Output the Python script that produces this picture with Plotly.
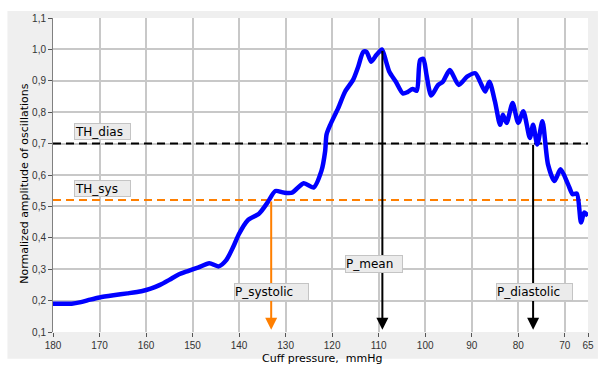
import plotly.graph_objects as go

# ---- data ----
pressure = [180, 178, 176, 174, 172, 170, 167, 164, 161, 159, 157, 155, 153, 151,
            148.7, 146.4, 144.4, 142.8, 141.3, 140, 138.2, 135.7, 133.9, 132.2, 130.4,
            128.6, 126.1, 124, 122.3, 121.5, 121.2, 120.4, 118.7, 117.2, 115.5, 114.4,
            113.3, 112.6, 111.6, 110.5, 109.3, 108.4, 107.7, 106.3, 104.8, 103.8, 102.7,
            101.8, 101.1, 100.4, 99.7, 98.7, 97.2, 96.2, 94.7, 92.8, 91, 89.2, 88.2,
            87.1, 86.2, 85, 83.9, 83.3, 82.5, 81.2, 80, 78.9, 77.5, 76.8, 75.9, 74.8,
            73.6, 72.2, 70.9, 69.3, 68.3, 67.4, 66.5, 65.8, 65]
amplitude = [0.19, 0.19, 0.19, 0.195, 0.203, 0.21, 0.217, 0.223, 0.23, 0.238, 0.25, 0.266,
             0.283, 0.294, 0.306, 0.319, 0.309, 0.328, 0.37, 0.413, 0.455, 0.477, 0.512,
             0.549, 0.544, 0.544, 0.574, 0.56, 0.613, 0.676, 0.729, 0.76, 0.813, 0.866,
             0.903, 0.945, 0.992, 0.992, 0.961, 0.982, 1.0, 0.961, 0.929, 0.897, 0.86,
             0.864, 0.874, 0.868, 0.966, 0.97, 0.918, 0.853, 0.887, 0.897, 0.934, 0.887,
             0.913, 0.924, 0.897, 0.866, 0.897, 0.834, 0.76, 0.792, 0.766, 0.829, 0.766,
             0.803, 0.718, 0.76, 0.697, 0.771, 0.634, 0.581, 0.618, 0.571, 0.539, 0.541,
             0.449, 0.481, 0.47]

th_dias = 0.70
th_sys = 0.52
p_systolic = 133.1
p_mean = 109.2
p_mean_amp = 1.0
p_diastolic = 76.8
arrow_bottom = 0.107

x_ticks = [180, 170, 160, 150, 140, 130, 120, 110, 100, 90, 80, 70, 65]
x_ticklabels = ["180", "170", "160", "150", "140", "130", "120", "110", "100", "90", "80", "70", "65"]
y_ticks = [0.1, 0.2, 0.3, 0.4, 0.5, 0.6, 0.7, 0.8, 0.9, 1.0, 1.1]
y_ticklabels = ["0,1", "0,2", "0,3", "0,4", "0,5", "0,6", "0,7", "0,8", "0,9", "1,0", "1,1"]

BLUE = "#0000ff"
ORANGE = "#ff7f00"
FONT = "DejaVu Sans"
TICKFONT = "Liberation Sans Narrow, Liberation Sans, Arial, sans-serif"

fig = go.Figure()

# threshold lines
fig.add_trace(go.Scatter(x=[180, 65], y=[th_dias, th_dias], mode="lines",
                         line=dict(color="black", width=2, dash="8px,5px"),
                         hoverinfo="skip", showlegend=False))
fig.add_trace(go.Scatter(x=[180, 65], y=[th_sys, th_sys], mode="lines",
                         line=dict(color=ORANGE, width=2, dash="8px,5px"),
                         hoverinfo="skip", showlegend=False))
# curve
fig.add_trace(go.Scatter(x=pressure, y=amplitude, mode="lines",
                         line=dict(color=BLUE, width=4.5, shape="spline", smoothing=0.7),
                         showlegend=False))

annotations = []
# arrows
for xv, ytop, col in [(p_systolic, th_sys, ORANGE), (p_mean, p_mean_amp, "black"),
                      (p_diastolic, th_dias, "black")]:
    annotations.append(dict(x=xv, y=arrow_bottom, ax=xv, ay=ytop, xref="x", yref="y",
                            axref="x", ayref="y", text="", showarrow=True,
                            arrowhead=2, arrowsize=1.2, arrowwidth=2, arrowcolor=col))

# label boxes
def box(text, x, y, w, h):
    return dict(x=x, y=y, xref="x", yref="y", xanchor="left", yanchor="middle",
                text=text, showarrow=False, align="left", width=w - 2, height=h - 2,
                bgcolor="#ebebeb", bordercolor="#c4c4c4", borderwidth=1, borderpad=0,
                font=dict(family=FONT, size=12, color="black"))

annotations += [
    box("TH_dias", 175.5, 0.739, 57, 17),
    box("TH_sys", 175.5, 0.557, 57, 17),
    box("P_systolic", 141.0, 0.227, 75, 18),
    box("P_mean", 117.2, 0.315, 58, 18),
    box("P_diastolic", 84.8, 0.228, 77, 18),
]

# axis titles
annotations.append(dict(x=-0.0537, y=0.473, xref="paper", yref="paper", textangle=-90,
                        text="Normalized amplitude of oscillations", showarrow=False,
                        font=dict(family=FONT, size=11, color="black"),
                        xanchor="center", yanchor="middle"))
annotations.append(dict(x=0.502, y=-0.084, xref="paper", yref="paper",
                        text="Cuff pressure,  mmHg", showarrow=False,
                        font=dict(family=FONT, size=11, color="black"),
                        xanchor="center", yanchor="middle"))

L, R, T, B = 53, 13, 16, 33
W, H = 606, 365
pw, ph = W - L - R, H - T - B
def px2paper_x(px):
    return (px - L) / pw
def px2paper_y(py):
    return (H - B - py) / ph

shapes = [
    dict(type="rect", xref="paper", yref="paper", layer="below",
         x0=px2paper_x(7), x1=px2paper_x(603), y0=px2paper_y(359), y1=px2paper_y(9),
         fillcolor="#efefef", line=dict(width=0)),
    dict(type="rect", xref="paper", yref="paper", layer="below",
         x0=0, x1=1, y0=0, y1=1, fillcolor="white", line=dict(width=0)),
]

fig.update_layout(
    width=W, height=H,
    margin=dict(l=L, r=R, t=T, b=B),
    paper_bgcolor="white", plot_bgcolor="white",
    font=dict(family=FONT, size=9, color="#333333"),
    annotations=annotations, shapes=shapes,
    showlegend=False,
)
fig.update_xaxes(range=[180, 65], tickvals=x_ticks, ticktext=x_ticklabels,
                 showgrid=True, gridcolor="#c8c8c8", gridwidth=1.5,
                 ticks="outside", ticklen=4, tickcolor="#555555",
                 showline=False, zeroline=False,
                 tickfont=dict(family=TICKFONT, size=10, color="#333333"))
fig.update_yaxes(range=[0.1, 1.1], tickvals=y_ticks, ticktext=y_ticklabels,
                 showgrid=True, gridcolor="#c8c8c8", gridwidth=1.5,
                 ticks="outside", ticklen=4, tickcolor="#555555",
                 showline=True, linecolor="#808080", linewidth=1, zeroline=False,
                 tickfont=dict(family=TICKFONT, size=10, color="#333333"))

fig.write_html("out.html")
